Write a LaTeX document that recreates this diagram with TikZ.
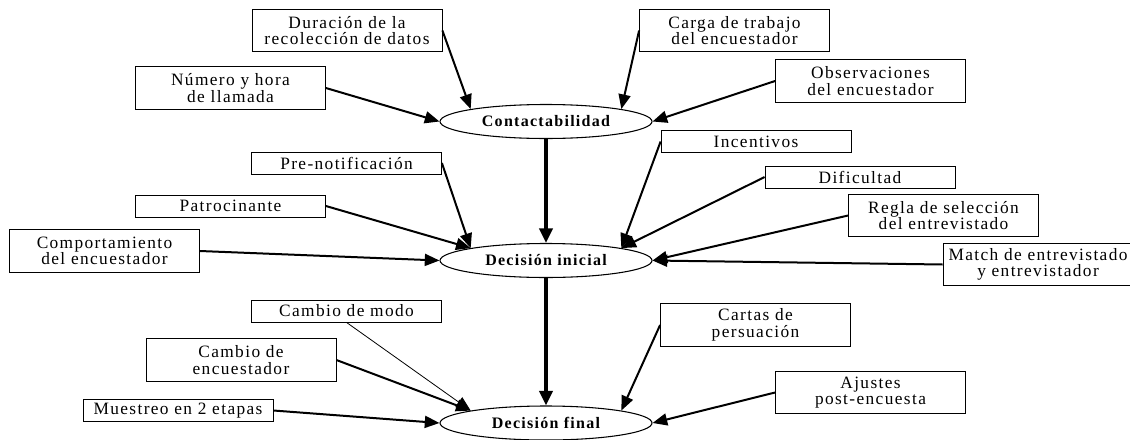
\documentclass[tikz,border=0pt]{standalone}
\usepackage{fontspec}
\setmainfont[LetterSpace=8]{Liberation Serif}
\usetikzlibrary{shapes.geometric,arrows.meta}

\begin{document}
\begin{tikzpicture}[x=0.75pt,y=-0.75pt,
  caja/.style={draw,line width=0.6pt,minimum width=142.5pt,minimum height=16.5pt,
    inner sep=1pt,align=center,font=\fontsize{13}{12.5}\selectfont},
  caja2/.style={caja,minimum height=32pt},
  etapa/.style={draw,ellipse,line width=0.8pt,minimum width=159pt,minimum height=25.5pt,
    inner sep=0pt,fill=white,font=\bfseries\fontsize{12}{12}\selectfont},
  flecha/.style={-{Triangle[length=11pt,width=9pt]},line width=1.5pt},
  fina/.style={flecha,line width=0.6pt},
  gruesa/.style={-{Triangle[length=11pt,width=10pt]},line width=2.3pt}]
\useasboundingbox (0,0) rectangle (1130,439);

% Etapas
\node[etapa] (contacto) at (546,121.5) {Contactabilidad};
\node[etapa] (inicial) at (546,260.5) {Decisión inicial};
\node[etapa] (final) at (546,423) {Decisión final};

% Factores de contactabilidad
\node[caja2] (duracion) at (347,30.5) {Duración de la\\recolección de datos};
\node[caja2] (numero) at (230.5,88) {Número y hora\\de llamada};
\node[caja2] (carga) at (734.5,30.5) {Carga de trabajo\\del encuestador};
\node[caja2] (observ) at (870.5,81) {Observaciones\\del encuestador};

% Factores de la decision inicial
\node[caja] (prenot) at (346.5,163) {Pre-notificación};
\node[caja] (patro) at (230.5,206) {Patrocinante};
\node[caja2] (comport) at (104.5,251) {Comportamiento\\del encuestador};
\node[caja] (incent) at (756,141.5) {Incentivos};
\node[caja] (dificul) at (860,177) {Dificultad};
\node[caja2] (regla) at (943.5,215.5) {Regla de selección\\del entrevistado};
\node[caja2] (match) at (1038,264.5) {Match de entrevistado\\y entrevistador};

% Factores de la decision final
\node[caja] (modo) at (346.5,311) {Cambio de modo};
\node[caja2] (cambenc) at (241,360) {Cambio de\\encuestador};
\node[caja] (muestreo) at (178,410.5) {Muestreo en 2 etapas};
\node[caja2] (cartas) at (755.5,325) {Cartas de\\persuación};
\node[caja2] (ajustes) at (870.5,392.5) {Ajustes\\post-encuesta};

% Flechas
\draw[gruesa] (contacto) -- (inicial);
\draw[gruesa] (inicial) -- (final);

\draw[flecha] (duracion.east) -- (contacto.north west);
\draw[flecha] (numero.east) -- (contacto.west);
\draw[flecha] (carga.west) -- (contacto.north east);
\draw[flecha] (observ.west) -- (contacto.east);

\draw[flecha] (prenot.east) -- (inicial.north west);
\draw[flecha] (patro.east) -- (inicial.north west);
\draw[flecha] (comport.east) -- (inicial.west);
\draw[flecha] (incent.west) -- (inicial.north east);
\draw[flecha] (dificul.west) -- (inicial.north east);
\draw[flecha] (regla.west) -- (inicial.east);
\draw[flecha] (match.west) -- (inicial.east);

\draw[fina] (modo.south) -- (final.north west);
\draw[flecha] (cambenc.east) -- (final.north west);
\draw[flecha] (muestreo.east) -- (final.west);
\draw[flecha] (cartas.west) -- (final.north east);
\draw[flecha] (ajustes.west) -- (final.east);
\end{tikzpicture}
\end{document}
